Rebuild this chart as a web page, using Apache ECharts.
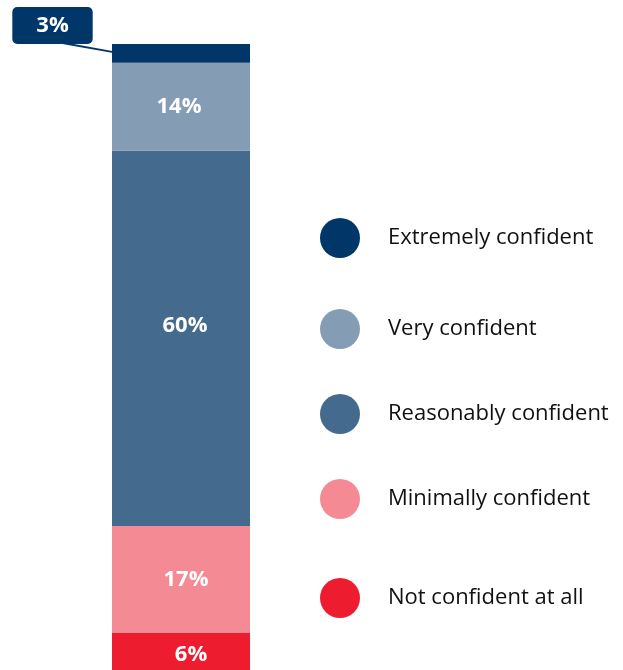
<!DOCTYPE html>
<html>
<head>
<meta charset="utf-8">
<script src="https://cdn.jsdelivr.net/npm/echarts@6/dist/echarts.min.js"></script>
<style>
  html, body { margin: 0; padding: 0; background: #ffffff; }
  #chart { width: 623px; height: 670px; }
</style>
</head>
<body>
<div id="chart"></div>
<script>
// Confidence levels, stacked bottom to top
const categories = ['All respondents'];
const levels = ['Not confident at all', 'Minimally confident', 'Reasonably confident', 'Very confident', 'Extremely confident'];
const shares = [6, 17, 60, 14, 3];
const colors = ['#ED1C2E', '#F48B94', '#446A8E', '#849DB5', '#003768'];

// Legend order (top to bottom) and vertical centre of each entry
const legendOrder = ['Extremely confident', 'Very confident', 'Reasonably confident', 'Minimally confident', 'Not confident at all'];
const legendY = [238, 329, 414, 499, 598];

// Nudges for the in-bar value labels
const labelOffsets = [[10, 4], [5, 1], [4, -12], [-2, 0], [0, 0]];

const FONT = '"Open Sans", "Noto Sans", sans-serif';
const CALLOUT = { cx: 52.5, cy: 25.5, h: 37 };

const series = levels.map((name, i) => {
  const isTop = name === 'Extremely confident';
  const s = {
    name: name,
    type: 'bar',
    stack: 'total',
    barWidth: '100%',
    itemStyle: { color: colors[i] },
    data: [shares[i]],
    label: {
      show: true,
      position: 'inside',
      offset: labelOffsets[i],
      formatter: '{c}%',
      color: '#ffffff',
      fontFamily: FONT,
      fontWeight: 'bold',
      fontSize: 22
    }
  };
  if (isTop) {
    // Small segment: value shown in a callout box above-left of the bar
    s.label = {
      show: true,
      formatter: '{c}%',
      color: '#ffffff',
      fontFamily: FONT,
      fontWeight: 'bold',
      fontSize: 22,
      lineHeight: 27,
      backgroundColor: '#003768',
      borderRadius: 5,
      padding: [10, 24, 0, 24],
      align: 'center',
      verticalAlign: 'middle'
    };
    s.labelLayout = { x: CALLOUT.cx, y: CALLOUT.cy };
  }
  return s;
});

const legends = legendOrder.map((name, i) => ({
  data: [name],
  left: 320,
  top: legendY[i] - 20,
  padding: 0,
  orient: 'vertical',
  icon: 'circle',
  itemWidth: 40,
  itemHeight: 40,
  selectedMode: false,
  textStyle: {
    fontFamily: FONT,
    fontSize: 22,
    color: '#111111',
    padding: [0, 0, 0, 23]
  }
}));

const chart = echarts.init(document.getElementById('chart'));
chart.setOption({
  backgroundColor: '#ffffff',
  animation: false,
  grid: { left: 112, right: 373, top: 44, bottom: 0 },
  xAxis: { type: 'category', data: categories, show: false },
  yAxis: { type: 'value', min: 0, max: 100, show: false },
  legend: legends,
  series: series
});

// Leader line from the callout's lower edge to the left side of the top segment
const topIdx = levels.indexOf('Extremely confident');
const layout = chart.getModel().getSeriesByIndex(topIdx).getData().getItemLayout(0);
const segTop = Math.min(layout.y, layout.y + layout.height);
const segH = Math.abs(layout.height);
const segLeft = Math.min(layout.x, layout.x + layout.width);
chart.setOption({
  graphic: [{
    type: 'line',
    z: 100,
    shape: {
      x1: CALLOUT.cx + 10, y1: CALLOUT.cy + CALLOUT.h / 2 - 1,
      x2: segLeft, y2: segTop + segH * 0.42
    },
    style: { stroke: '#003768', lineWidth: 2 }
  }]
});
</script>
</body>
</html>
